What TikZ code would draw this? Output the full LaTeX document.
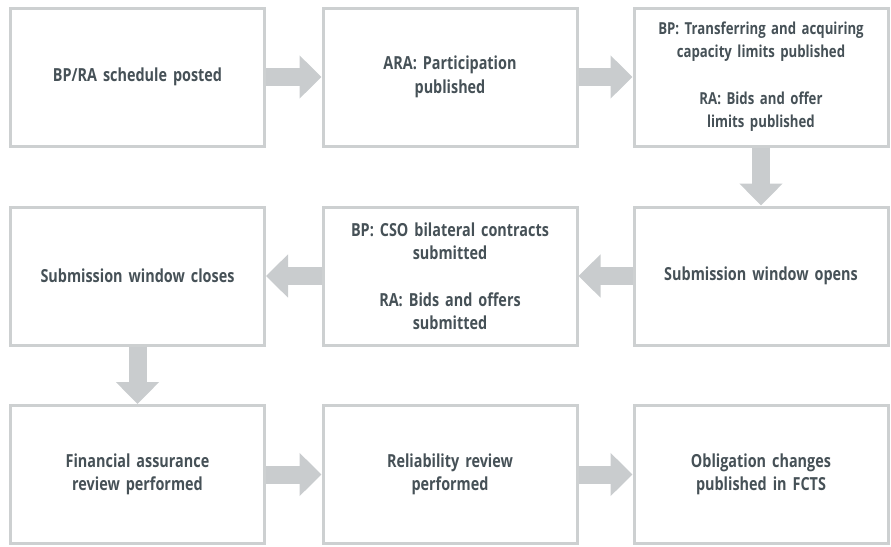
\documentclass[tikz,border=0pt]{standalone}
\usepackage{fontspec}
\setmainfont{Open Sans}[BoldFeatures={FakeStretch=0.8}]
\usetikzlibrary{arrows.meta}
\definecolor{boxgray}{HTML}{CDD0D1}
\definecolor{arrowgray}{HTML}{C9CCCE}
\definecolor{textgray}{HTML}{465157}

\begin{document}
\begin{tikzpicture}[x=1pt,y=-1pt]
	\tikzset{
		stage/.style={draw=boxgray, line width=3pt, fill=white, minimum width=254pt, minimum height=138pt,
			text width=244pt, align=center, text=textgray, font=\fontsize{18}{23.5}\selectfont\bfseries},
		small/.style={font=\fontsize{16.5}{23}\selectfont\bfseries},
		flow/.style={draw=arrowgray, line width=18pt, -{Triangle[width=42pt,length=22pt]}}
	}
	\useasboundingbox (0,0) rectangle (891,546);
	
	% top row
	\node[stage] (posted) at (137.5,77) {BP/RA schedule posted};
	\node[stage] (particip) at (450,77) {ARA: Participation\\published};
	\node[stage,small] (limits) at (761,77) {BP: Transferring and acquiring\\capacity limits published\\[24pt]RA: Bids and offer\\limits published};
	
	% middle row
	\node[stage] (opens) at (761,276) {Submission window opens};
	\node[stage] (submitted) at (450,276) {BP: CSO bilateral contracts\\submitted\\[23pt]RA: Bids and offers\\submitted};
	\node[stage] (closes) at (137.5,276) {Submission window closes};
	
	% bottom row
	\node[stage] (finance) at (137.5,474.5) {Financial assurance\\review performed};
	\node[stage] (reliab) at (450,474.5) {Reliability review\\performed};
	\node[stage] (fcts) at (761,474.5) {Obligation changes\\published in FCTS};
	
	\draw[flow] (posted.east) -- (particip.west);
	\draw[flow] (particip.east) -- (limits.west);
	\draw[flow] (limits.south) -- (opens.north);
	\draw[flow] (opens.west) -- (submitted.east);
	\draw[flow] (submitted.west) -- (closes.east);
	\draw[flow] (closes.south) -- (finance.north);
	\draw[flow] (finance.east) -- (reliab.west);
	\draw[flow] (reliab.east) -- (fcts.west);
\end{tikzpicture}
\end{document}
